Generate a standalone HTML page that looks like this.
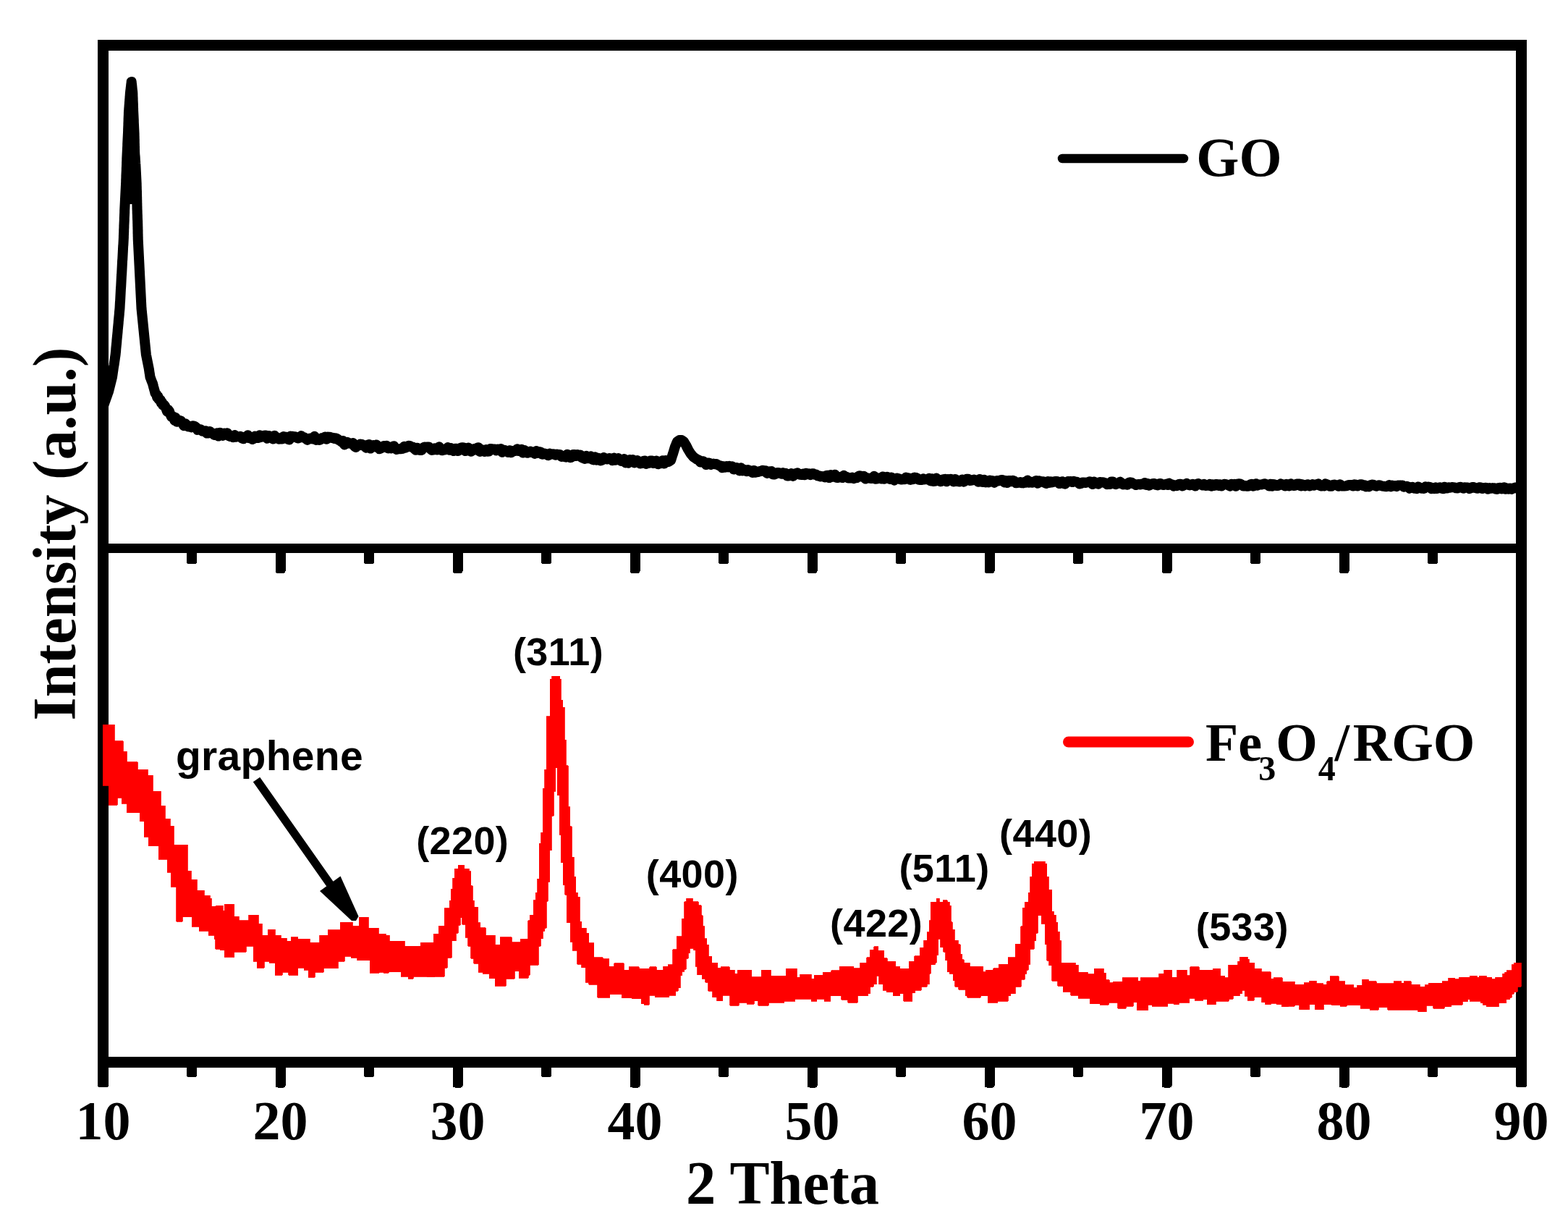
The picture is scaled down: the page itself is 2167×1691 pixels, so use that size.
<!DOCTYPE html><html><head><meta charset="utf-8"><title>XRD patterns of GO and Fe3O4/RGO</title>
<style>html,body{margin:0;padding:0;background:#fff}svg{display:block}</style></head><body>
<svg width="2167" height="1691" viewBox="0 0 2167 1691">
<rect width="2167" height="1691" fill="#fff"/>
<g fill="#000" shape-rendering="crispEdges">
<rect x="135" y="55" width="1975" height="15"/>
<rect x="135" y="1460" width="1975" height="15"/>
<rect x="135" y="55" width="15" height="1447" rx="3"/>
<rect x="2095" y="55" width="15" height="1447" rx="3"/>
<rect x="135" y="751" width="1975" height="13"/>
<rect x="380.5" y="1467" width="14" height="35.5" rx="3"/>
<rect x="380.5" y="757" width="14" height="35" rx="3"/>
<rect x="625.5" y="1467" width="14" height="35.5" rx="3"/>
<rect x="625.5" y="757" width="14" height="35" rx="3"/>
<rect x="870.5" y="1467" width="14" height="35.5" rx="3"/>
<rect x="870.5" y="757" width="14" height="35" rx="3"/>
<rect x="1115.5" y="1467" width="14" height="35.5" rx="3"/>
<rect x="1115.5" y="757" width="14" height="35" rx="3"/>
<rect x="1360.5" y="1467" width="14" height="35.5" rx="3"/>
<rect x="1360.5" y="757" width="14" height="35" rx="3"/>
<rect x="1605.5" y="1467" width="14" height="35.5" rx="3"/>
<rect x="1605.5" y="757" width="14" height="35" rx="3"/>
<rect x="1850.5" y="1467" width="14" height="35.5" rx="3"/>
<rect x="1850.5" y="757" width="14" height="35" rx="3"/>
<rect x="258.0" y="1467" width="14" height="21" rx="3"/>
<rect x="258.0" y="757" width="14" height="22" rx="3"/>
<rect x="503.0" y="1467" width="14" height="21" rx="3"/>
<rect x="503.0" y="757" width="14" height="22" rx="3"/>
<rect x="748.0" y="1467" width="14" height="21" rx="3"/>
<rect x="748.0" y="757" width="14" height="22" rx="3"/>
<rect x="993.0" y="1467" width="14" height="21" rx="3"/>
<rect x="993.0" y="757" width="14" height="22" rx="3"/>
<rect x="1238.0" y="1467" width="14" height="21" rx="3"/>
<rect x="1238.0" y="757" width="14" height="22" rx="3"/>
<rect x="1483.0" y="1467" width="14" height="21" rx="3"/>
<rect x="1483.0" y="757" width="14" height="22" rx="3"/>
<rect x="1728.0" y="1467" width="14" height="21" rx="3"/>
<rect x="1728.0" y="757" width="14" height="22" rx="3"/>
<rect x="1973.0" y="1467" width="14" height="21" rx="3"/>
<rect x="1973.0" y="757" width="14" height="22" rx="3"/>
</g>
<path d="M142.5 562.0 L143.2 560.1 L143.9 558.2 L144.5 556.3 L145.2 554.4 L145.9 552.5 L146.6 550.5 L147.3 548.6 L148.0 546.7 L148.6 544.8 L149.3 542.9 L150.0 541.0 L150.5 539.0 L151.0 537.0 L151.5 535.0 L152.0 533.0 L152.5 531.0 L153.0 529.0 L153.5 527.0 L154.0 525.0 L154.5 523.0 L155.0 521.0 L155.3 518.9 L155.6 516.9 L155.9 514.8 L156.2 512.7 L156.5 510.7 L156.8 508.6 L157.1 506.5 L157.5 504.5 L157.8 502.4 L158.1 500.3 L158.4 498.3 L158.7 496.2 L159.0 494.1 L159.3 492.1 L159.6 490.0 L159.8 488.0 L160.0 486.0 L160.2 484.0 L160.3 482.0 L160.5 480.0 L160.7 478.0 L160.9 476.0 L161.1 474.0 L161.3 472.0 L161.4 470.0 L161.6 468.0 L161.8 466.0 L162.0 464.0 L162.2 462.0 L162.4 460.0 L162.6 458.0 L162.7 456.0 L162.9 454.0 L163.1 452.0 L163.3 450.0 L163.5 448.0 L163.7 446.0 L163.8 444.0 L164.0 442.0 L164.2 440.0 L164.4 438.0 L164.6 436.0 L164.8 434.0 L164.9 432.0 L165.1 430.0 L165.3 428.0 L165.5 426.0 L165.6 424.0 L165.7 422.0 L165.8 420.0 L165.9 418.0 L166.1 416.0 L166.2 414.0 L166.3 412.0 L166.4 410.0 L166.5 408.0 L166.6 406.0 L166.7 404.0 L166.8 402.0 L166.9 400.0 L167.0 398.0 L167.2 396.0 L167.3 394.0 L167.4 392.0 L167.5 390.0 L167.6 388.0 L167.7 386.0 L167.8 384.0 L167.9 382.0 L168.0 380.0 L168.2 378.0 L168.3 376.0 L168.4 374.0 L168.5 372.0 L168.6 370.0 L168.7 368.0 L168.8 366.0 L168.9 364.0 L169.0 362.0 L169.1 360.0 L169.3 358.0 L169.4 356.0 L169.5 354.0 L169.6 352.0 L169.7 350.0 L169.8 348.0 L169.9 346.0 L170.0 344.0 L170.1 342.0 L170.2 340.0 L170.4 338.0 L170.5 336.0 L170.6 334.0 L170.7 332.0 L170.8 330.0 L170.9 328.0 L170.9 326.0 L171.0 324.0 L171.1 322.0 L171.2 320.0 L171.2 318.0 L171.3 316.0 L171.4 314.0 L171.4 312.0 L171.5 310.0 L171.6 307.9 L171.7 305.8 L171.8 303.8 L171.8 301.7 L171.9 299.6 L172.0 297.5 L172.1 295.4 L172.2 293.3 L172.2 291.2 L172.3 289.2 L172.4 287.1 L172.5 285.0 L172.6 283.0 L172.7 281.0 L172.8 279.0 L172.9 277.0 L173.0 275.0 L173.1 273.0 L173.2 271.0 L173.3 269.0 L173.4 267.0 L173.5 265.0 L173.6 263.0 L173.7 261.0 L173.8 259.0 L173.9 257.0 L174.0 255.0 L174.1 253.0 L174.2 251.0 L174.2 249.0 L174.3 247.0 L174.4 245.0 L174.4 243.0 L174.5 241.0 L174.6 239.0 L174.7 237.0 L174.8 235.0 L174.8 233.0 L174.9 231.0 L175.0 229.0 L175.1 227.0 L175.1 225.0 L175.2 223.0 L175.3 221.0 L175.3 219.0 L175.4 217.0 L175.5 215.0 L175.6 213.0 L175.7 211.0 L175.8 209.0 L175.9 207.0 L176.0 205.0 L176.1 203.0 L176.2 201.0 L176.2 199.0 L176.3 197.0 L176.4 195.0 L176.5 193.0 L176.6 191.0 L176.7 189.0 L176.8 187.0 L176.9 185.0 L177.0 183.0 L177.1 180.9 L177.1 178.9 L177.2 176.8 L177.3 174.7 L177.4 172.6 L177.4 170.6 L177.5 168.5 L177.6 166.4 L177.6 164.4 L177.7 162.3 L177.8 160.2 L177.9 158.1 L177.9 156.1 L178.0 154.0 L178.2 152.0 L178.3 150.0 L178.5 148.0 L178.6 146.0 L178.8 144.0 L178.9 142.0 L179.1 140.0 L179.2 138.0 L179.4 136.0 L179.5 134.0 L179.7 132.0 L179.8 130.0 L180.0 128.0 L180.2 125.9 L180.5 123.7 L180.7 121.6 L181.0 119.4 L181.2 117.3 L181.5 115.1 L181.7 113.0 L181.9 115.1 L182.2 117.3 L182.4 119.4 L182.6 121.6 L182.8 123.7 L183.1 125.9 L183.3 128.0 L183.4 130.0 L183.4 132.0 L183.5 134.0 L183.6 136.0 L183.6 138.0 L183.7 140.0 L183.8 142.0 L183.9 144.0 L183.9 146.0 L184.0 148.0 L184.1 150.0 L184.1 152.0 L184.2 154.0 L184.3 156.1 L184.4 158.1 L184.5 160.2 L184.6 162.3 L184.7 164.4 L184.8 166.4 L184.8 168.5 L184.9 170.6 L185.0 172.6 L185.1 174.7 L185.2 176.8 L185.3 178.9 L185.4 180.9 L185.5 183.0 L185.6 185.0 L185.6 187.0 L185.7 189.0 L185.7 191.0 L185.8 193.0 L185.8 195.0 L185.8 197.0 L185.9 199.0 L185.9 201.0 L186.0 203.0 L186.0 205.0 L186.1 207.0 L186.1 209.0 L186.2 211.0 L186.3 213.1 L186.5 215.2 L186.7 217.4 L186.8 219.5 L186.9 221.6 L187.1 223.8 L187.2 225.9 L187.4 228.0 L187.5 230.0 L187.6 232.0 L187.7 234.0 L187.8 236.0 L187.9 238.0 L188.0 240.0 L188.1 242.0 L188.2 244.0 L188.3 246.0 L188.4 248.0 L188.5 250.0 L188.6 252.0 L188.7 254.1 L188.7 256.2 L188.8 258.3 L188.8 260.4 L188.9 262.5 L189.0 264.6 L189.0 266.7 L189.1 268.8 L189.1 270.9 L189.2 273.0 L189.2 275.1 L189.3 277.2 L189.3 279.4 L189.4 281.5 L189.4 283.6 L189.5 285.8 L189.5 287.9 L189.6 290.0 L189.7 292.0 L189.7 294.0 L189.8 296.0 L189.9 298.0 L189.9 300.0 L190.0 302.0 L190.1 304.0 L190.2 306.0 L190.2 308.0 L190.3 310.0 L190.3 312.0 L190.4 314.0 L190.4 316.0 L190.5 318.0 L190.5 320.0 L190.5 322.0 L190.6 324.0 L190.6 326.0 L190.7 328.0 L190.7 330.0 L190.8 332.0 L190.9 334.0 L191.0 336.0 L191.1 338.0 L191.2 340.0 L191.3 342.0 L191.4 344.0 L191.5 346.0 L191.6 348.0 L191.7 350.0 L191.8 352.0 L191.9 354.0 L192.0 356.0 L192.1 358.0 L192.2 360.0 L192.3 362.0 L192.4 364.0 L192.5 366.0 L192.6 368.0 L192.7 370.0 L192.8 372.0 L192.9 374.0 L193.0 376.0 L193.1 378.0 L193.2 380.0 L193.3 382.0 L193.4 384.0 L193.5 386.0 L193.6 388.0 L193.7 390.0 L193.8 392.0 L193.9 394.0 L194.0 396.0 L194.1 398.0 L194.2 400.0 L194.3 402.0 L194.4 404.0 L194.5 406.0 L194.6 408.0 L194.7 410.0 L194.8 412.0 L194.9 414.0 L195.0 416.0 L195.1 418.0 L195.2 420.0 L195.3 422.0 L195.4 424.0 L195.5 426.0 L195.7 428.0 L195.9 430.0 L196.1 432.0 L196.3 434.0 L196.5 436.0 L196.7 438.0 L196.9 440.0 L197.1 442.0 L197.3 444.0 L197.5 446.0 L197.7 448.0 L197.9 450.0 L198.1 452.0 L198.3 454.0 L198.5 456.0 L198.7 458.0 L198.9 460.0 L199.1 462.0 L199.3 464.0 L199.5 466.0 L199.7 468.0 L199.9 470.0 L200.1 472.0 L200.3 474.0 L200.5 476.0 L200.7 478.0 L200.9 480.0 L201.1 482.0 L201.3 484.0 L201.5 486.0 L201.7 488.0 L201.9 490.0 L202.3 492.0 L202.7 494.0 L203.1 496.0 L203.5 498.0 L203.9 500.0 L204.3 502.0 L204.7 504.0 L205.1 506.0 L205.5 508.0 L205.9 510.0 L206.2 512.2 L206.5 514.4 L206.9 516.6 L207.2 518.8 L207.5 521.0 L208.4 523.2 L209.2 525.5 L210.1 527.8 L211.0 530.0 L211.6 532.1 L212.1 534.3 L212.7 536.4 L213.3 538.6 L213.9 540.7 L214.4 542.9 L215.0 543.9 L216.1 544.6 L217.2 549.2 L218.3 547.4 L219.4 551.9 L220.6 552.5 L221.7 552.3 L222.8 556.7 L223.9 555.6 L225.0 559.6 L226.5 559.1 L228.0 560.9 L229.5 564.5 L231.0 568.6 L232.5 566.1 L234.0 568.3 L235.4 572.3 L236.9 575.9 L238.3 575.2 L239.7 575.7 L241.2 580.8 L242.6 576.8 L244.5 582.8 L246.4 580.5 L248.3 580.8 L250.2 581.7 L252.1 584.0 L254.0 588.2 L256.1 585.2 L258.2 588.4 L260.3 589.5 L262.4 588.7 L264.5 590.4 L266.6 588.2 L268.8 588.8 L270.9 590.3 L273.0 593.8 L275.2 593.1 L277.5 593.2 L279.8 595.7 L282.0 595.7 L284.0 595.2 L286.0 598.5 L288.0 598.4 L290.0 596.0 L292.0 598.4 L294.0 598.5 L296.0 601.0 L298.0 600.5 L300.0 598.2 L302.0 602.6 L304.0 597.7 L306.1 599.7 L308.1 601.9 L310.1 598.5 L312.1 600.8 L314.1 598.3 L316.2 602.3 L318.2 603.1 L320.2 602.2 L322.2 604.2 L324.3 601.1 L326.3 603.6 L328.3 603.2 L330.3 603.4 L332.3 602.9 L334.4 605.4 L336.4 606.2 L338.4 603.6 L340.5 604.8 L342.5 601.2 L344.6 605.1 L346.6 604.8 L348.7 606.9 L350.7 605.9 L352.8 602.7 L354.8 603.3 L356.9 605.0 L358.9 601.2 L361.0 603.9 L363.0 602.1 L365.1 601.8 L367.1 601.5 L369.2 605.8 L371.2 602.0 L373.3 602.7 L375.3 603.6 L377.4 606.5 L379.4 601.8 L381.5 604.0 L383.5 604.7 L385.6 606.7 L387.6 606.3 L389.7 606.6 L391.7 603.1 L393.8 604.0 L395.9 603.7 L397.9 606.9 L400.0 607.4 L402.0 602.6 L404.1 602.8 L406.1 603.2 L408.2 603.2 L410.2 604.8 L412.3 605.5 L414.3 603.6 L416.4 602.1 L418.4 604.6 L420.5 604.3 L422.5 605.6 L424.6 607.9 L426.6 606.4 L428.7 605.4 L430.7 606.1 L432.8 606.5 L434.8 602.8 L436.9 607.9 L438.9 607.2 L441.0 607.9 L443.0 607.4 L445.1 605.1 L447.1 605.1 L449.2 603.4 L451.3 606.8 L453.5 603.6 L455.6 603.8 L457.7 604.9 L459.9 604.8 L462.0 606.0 L464.0 605.3 L466.0 606.0 L468.0 607.9 L470.0 608.6 L472.0 610.6 L474.0 609.0 L476.0 614.4 L478.0 613.3 L480.0 610.9 L482.0 611.8 L484.0 612.7 L486.0 613.2 L488.0 612.0 L490.0 616.7 L492.0 617.9 L494.0 615.1 L496.0 615.5 L498.0 613.5 L500.0 613.9 L502.0 615.7 L504.0 615.3 L506.0 618.7 L508.1 614.8 L510.1 614.0 L512.1 619.6 L514.1 617.2 L516.1 614.9 L518.1 617.4 L520.2 614.4 L522.2 617.4 L524.2 620.2 L526.2 619.6 L528.2 618.6 L530.3 616.1 L532.3 616.8 L534.3 615.7 L536.3 619.4 L538.3 618.0 L540.3 619.5 L542.4 616.9 L544.4 616.3 L546.4 619.9 L548.4 621.0 L550.4 620.3 L552.5 620.1 L554.5 620.2 L556.5 619.8 L558.5 616.8 L560.5 618.6 L562.5 617.7 L564.6 615.8 L566.6 615.9 L568.6 617.5 L570.6 617.4 L572.6 620.1 L574.6 621.7 L576.7 618.7 L578.7 621.7 L580.7 622.0 L582.7 621.9 L584.7 618.4 L586.7 617.6 L588.7 617.7 L590.8 617.5 L592.8 617.6 L594.8 620.2 L596.8 621.9 L598.8 621.6 L600.8 619.5 L602.8 620.6 L604.8 621.5 L606.9 617.3 L608.9 620.8 L610.9 622.3 L612.9 621.6 L614.9 621.5 L616.9 619.9 L618.9 618.1 L621.0 621.8 L623.0 619.1 L625.0 622.0 L627.0 623.1 L629.0 619.7 L631.0 619.8 L633.0 623.1 L635.1 621.8 L637.1 618.5 L639.1 618.3 L641.1 618.5 L643.1 623.1 L645.1 622.5 L647.1 618.6 L649.1 622.8 L651.2 623.7 L653.2 621.8 L655.2 620.1 L657.2 621.3 L659.3 618.9 L661.3 618.2 L663.4 624.0 L665.4 622.2 L667.5 621.5 L669.5 624.0 L671.6 621.1 L673.6 623.8 L675.7 623.6 L677.7 620.0 L679.8 620.3 L681.8 620.6 L683.9 620.4 L685.9 622.6 L688.0 620.7 L690.0 621.7 L692.1 620.0 L694.1 624.8 L696.2 621.5 L698.2 622.2 L700.3 623.1 L702.3 625.1 L704.4 622.2 L706.4 625.3 L708.5 622.9 L710.5 623.1 L712.6 623.1 L714.6 620.3 L716.7 623.0 L718.7 621.6 L720.8 620.7 L722.8 625.6 L724.9 622.1 L726.9 624.0 L729.0 625.7 L731.0 624.9 L733.1 623.7 L735.1 625.0 L737.2 625.4 L739.2 626.9 L741.3 623.1 L743.3 625.9 L745.4 624.2 L747.4 624.6 L749.5 627.7 L751.5 626.3 L753.6 626.8 L755.6 628.1 L757.7 629.2 L759.7 626.6 L761.8 627.7 L763.8 627.3 L765.9 627.5 L767.9 628.7 L769.9 627.5 L771.9 628.2 L773.9 628.1 L776.0 631.0 L778.0 629.8 L780.0 631.0 L782.0 631.6 L784.0 627.8 L786.0 629.7 L788.0 632.2 L790.0 631.8 L792.1 627.9 L794.1 628.0 L796.1 630.1 L798.1 628.1 L800.1 629.3 L802.1 628.5 L804.1 632.2 L806.2 633.0 L808.2 633.9 L810.2 629.8 L812.2 633.2 L814.2 633.1 L816.2 630.3 L818.2 634.7 L820.3 635.4 L822.3 631.3 L824.3 635.7 L826.3 632.7 L828.3 633.4 L830.3 636.4 L832.4 635.7 L834.4 632.1 L836.4 633.8 L838.4 634.5 L840.4 633.6 L842.4 633.0 L844.4 633.9 L846.5 636.3 L848.5 632.6 L850.5 635.8 L852.5 635.3 L854.5 633.1 L856.5 635.0 L858.5 636.9 L860.6 636.4 L862.6 634.1 L864.6 639.5 L866.6 638.5 L868.6 639.7 L870.6 635.1 L872.7 636.1 L874.7 635.1 L876.7 639.4 L878.7 636.7 L880.7 636.0 L882.7 637.7 L884.8 640.5 L886.8 640.1 L888.8 637.0 L890.8 636.5 L892.9 640.9 L894.9 639.0 L896.9 639.8 L898.9 636.5 L901.0 636.4 L903.0 640.0 L905.0 638.6 L907.2 636.6 L909.3 641.3 L911.5 639.5 L913.7 640.3 L915.8 636.3 L918.0 640.5 L920.0 636.0 L922.0 638.2 L924.0 638.0 L927.0 636.0 L927.8 633.8 L928.5 631.5 L929.2 629.2 L930.0 627.0 L930.6 625.0 L931.2 623.0 L931.8 621.0 L932.4 619.0 L933.0 617.0 L934.0 614.7 L935.0 612.3 L936.0 610.0 L939.0 608.0 L942.0 608.0 L945.0 610.0 L946.5 612.5 L948.0 615.0 L949.0 617.0 L950.0 619.0 L951.0 621.0 L952.5 623.5 L954.0 626.0 L955.3 627.7 L956.7 629.3 L958.0 631.0 L959.7 632.2 L961.3 633.3 L963.0 634.5 L965.5 635.5 L968.0 638.5 L970.0 637.1 L972.0 637.3 L974.0 639.3 L976.0 642.1 L978.0 639.4 L980.0 639.5 L982.0 642.0 L984.0 640.9 L986.0 640.6 L988.0 641.2 L990.0 641.0 L992.0 642.2 L994.0 643.2 L996.0 643.5 L998.0 646.3 L1000.0 644.2 L1002.0 645.6 L1004.0 644.1 L1006.0 645.3 L1008.0 643.8 L1010.0 645.3 L1012.0 644.3 L1014.0 648.4 L1016.0 647.6 L1018.0 646.0 L1020.0 647.8 L1022.0 650.4 L1024.0 646.3 L1026.0 650.4 L1028.0 648.6 L1030.0 649.2 L1032.0 651.2 L1034.0 649.2 L1036.0 650.0 L1038.0 651.2 L1040.0 653.0 L1042.0 649.9 L1044.0 652.7 L1046.0 652.2 L1048.0 652.1 L1050.0 651.1 L1052.0 651.0 L1054.0 649.7 L1056.0 650.3 L1058.0 650.2 L1060.0 653.9 L1062.0 651.6 L1064.0 651.3 L1066.0 651.1 L1068.0 655.3 L1070.0 655.6 L1072.0 654.8 L1074.0 653.0 L1076.0 653.0 L1078.0 653.5 L1080.0 654.6 L1082.0 653.1 L1084.0 654.7 L1086.0 653.8 L1088.0 657.5 L1090.0 657.6 L1092.0 655.6 L1094.0 654.1 L1096.0 657.9 L1098.0 654.6 L1100.0 654.9 L1102.0 653.2 L1104.0 655.2 L1106.0 655.8 L1108.0 656.0 L1110.0 654.6 L1112.0 656.2 L1114.0 653.8 L1116.0 655.2 L1118.0 654.4 L1120.0 656.0 L1122.0 654.3 L1124.0 654.3 L1126.0 655.8 L1128.0 655.5 L1130.0 657.4 L1132.0 657.2 L1134.0 658.4 L1136.0 658.0 L1138.0 658.4 L1140.0 659.3 L1142.0 656.9 L1144.0 656.7 L1146.0 660.1 L1148.0 656.0 L1150.0 658.9 L1152.0 658.6 L1154.0 655.7 L1156.0 659.8 L1158.0 660.1 L1160.0 658.9 L1162.0 659.5 L1164.0 660.0 L1166.0 656.7 L1168.0 658.7 L1170.0 658.7 L1172.0 660.4 L1174.0 660.4 L1176.0 660.6 L1178.0 659.5 L1180.0 661.1 L1182.0 660.1 L1184.0 660.3 L1186.0 658.1 L1188.0 657.2 L1190.0 657.8 L1192.0 659.0 L1194.0 657.8 L1196.0 661.5 L1198.0 660.2 L1200.0 660.6 L1202.0 660.7 L1204.0 661.0 L1206.0 660.1 L1208.0 657.8 L1210.0 661.7 L1212.0 661.6 L1214.0 660.4 L1216.0 660.6 L1218.0 661.3 L1220.0 658.5 L1222.0 661.8 L1224.0 659.5 L1226.0 658.7 L1228.0 659.7 L1230.0 662.0 L1232.0 659.5 L1234.0 662.2 L1236.0 663.4 L1238.0 661.1 L1240.0 660.6 L1242.0 661.2 L1244.0 662.2 L1246.0 662.6 L1248.0 662.0 L1250.0 662.2 L1252.0 659.6 L1254.0 660.0 L1256.0 660.5 L1258.0 662.9 L1260.0 660.9 L1262.0 662.2 L1264.0 659.6 L1266.0 659.9 L1268.0 661.0 L1270.0 662.9 L1272.0 663.1 L1274.0 663.0 L1276.0 661.3 L1278.0 662.4 L1280.0 662.2 L1282.0 662.3 L1284.0 660.7 L1286.0 664.4 L1288.0 661.2 L1290.0 664.9 L1292.0 664.8 L1294.0 660.6 L1296.0 662.7 L1298.0 664.4 L1300.0 665.2 L1302.0 662.8 L1304.0 662.1 L1306.0 661.8 L1308.0 665.3 L1310.0 662.0 L1312.0 663.7 L1314.0 661.8 L1316.0 663.6 L1318.0 665.6 L1320.0 661.9 L1322.0 665.1 L1324.0 663.7 L1326.0 665.5 L1328.0 664.7 L1330.0 662.6 L1332.0 665.7 L1334.0 663.8 L1336.0 661.8 L1338.0 661.7 L1340.0 664.0 L1342.0 663.8 L1344.0 663.2 L1346.0 662.5 L1348.0 663.5 L1350.0 663.4 L1352.0 665.8 L1354.0 662.0 L1356.0 665.4 L1358.0 665.9 L1360.0 662.7 L1362.0 666.4 L1364.0 665.4 L1366.0 666.3 L1368.0 663.6 L1370.0 664.0 L1372.0 664.2 L1374.0 666.9 L1376.0 665.1 L1378.0 664.1 L1380.0 664.5 L1382.0 663.8 L1384.0 662.9 L1386.0 663.2 L1388.0 666.4 L1390.0 664.1 L1392.0 667.0 L1394.0 664.0 L1396.0 664.1 L1398.0 665.2 L1400.0 663.8 L1402.0 664.7 L1404.0 667.3 L1406.0 667.0 L1408.0 666.7 L1410.0 666.0 L1412.0 667.2 L1414.0 667.4 L1416.0 665.7 L1418.0 666.5 L1420.0 663.6 L1422.0 666.7 L1424.0 665.5 L1426.0 666.8 L1428.0 666.4 L1430.0 664.9 L1432.0 663.9 L1434.0 667.7 L1436.0 664.3 L1438.0 665.8 L1440.0 665.3 L1442.0 665.2 L1444.0 667.1 L1446.0 668.1 L1448.0 665.1 L1450.0 666.8 L1452.0 665.3 L1454.0 666.5 L1456.0 665.8 L1458.0 664.9 L1460.0 664.9 L1462.0 665.1 L1464.0 668.1 L1466.0 666.4 L1468.0 665.2 L1470.0 668.2 L1472.0 668.6 L1474.0 666.3 L1476.0 665.0 L1478.0 665.3 L1480.0 664.9 L1482.0 666.0 L1484.0 664.9 L1486.0 665.6 L1488.0 665.7 L1490.0 667.0 L1492.0 668.4 L1494.0 667.9 L1496.0 666.5 L1498.0 666.5 L1500.0 667.0 L1502.0 666.4 L1504.0 666.3 L1506.0 665.2 L1508.0 666.1 L1510.0 669.0 L1512.0 665.5 L1514.0 667.1 L1516.0 667.7 L1518.0 668.7 L1520.0 666.0 L1522.0 666.3 L1524.0 666.2 L1526.0 666.9 L1528.0 667.1 L1530.0 669.2 L1532.0 668.8 L1534.0 668.9 L1536.0 665.5 L1538.0 665.6 L1540.0 668.4 L1542.0 669.1 L1544.0 667.5 L1546.0 667.9 L1548.0 665.6 L1550.0 667.2 L1552.0 669.4 L1554.0 669.0 L1556.0 669.2 L1558.0 669.7 L1560.0 666.8 L1562.0 666.3 L1564.0 666.6 L1566.0 668.2 L1568.0 668.9 L1570.0 670.0 L1572.0 669.2 L1574.0 669.0 L1576.0 669.6 L1578.0 668.4 L1580.0 668.9 L1582.0 667.0 L1584.0 670.0 L1586.0 667.9 L1588.0 670.7 L1590.0 669.7 L1592.0 668.5 L1594.0 667.9 L1596.0 668.4 L1598.0 670.0 L1600.0 670.4 L1602.0 668.1 L1604.0 667.9 L1606.0 669.7 L1608.0 670.0 L1610.0 669.2 L1612.0 668.6 L1614.0 670.1 L1616.0 667.8 L1618.0 668.9 L1620.0 669.5 L1622.0 671.5 L1624.0 670.3 L1626.0 671.2 L1628.0 669.6 L1630.0 668.7 L1632.0 668.7 L1634.0 671.5 L1636.0 670.5 L1638.0 669.0 L1640.0 667.9 L1642.0 669.8 L1644.0 670.4 L1646.0 669.5 L1648.0 668.9 L1650.0 670.4 L1652.0 671.4 L1654.0 668.8 L1656.0 668.0 L1658.0 669.2 L1660.0 669.5 L1662.0 670.5 L1664.0 668.7 L1666.0 671.0 L1668.0 670.8 L1670.0 669.9 L1672.0 668.8 L1674.0 671.7 L1676.0 669.2 L1678.0 671.1 L1680.0 668.9 L1682.0 668.9 L1684.0 670.9 L1686.0 669.2 L1688.0 671.6 L1690.0 669.9 L1692.0 668.8 L1694.0 668.9 L1696.0 669.7 L1698.0 670.6 L1700.0 671.7 L1702.0 668.7 L1704.0 669.6 L1706.0 668.9 L1708.0 671.8 L1710.0 668.7 L1712.0 668.3 L1714.0 668.4 L1716.0 669.6 L1718.0 671.5 L1720.0 671.4 L1722.0 670.9 L1724.0 671.8 L1726.0 671.6 L1728.0 669.4 L1730.0 668.9 L1732.0 671.6 L1734.0 670.9 L1736.0 668.3 L1738.0 670.6 L1740.0 669.6 L1742.0 669.5 L1744.0 669.4 L1746.0 668.8 L1748.0 668.2 L1750.0 669.2 L1752.0 669.5 L1754.0 671.6 L1756.0 668.7 L1758.0 671.7 L1760.0 669.0 L1762.0 669.5 L1764.0 671.1 L1766.0 671.1 L1768.0 669.8 L1770.0 668.4 L1772.0 669.9 L1774.0 669.5 L1776.0 671.5 L1778.0 668.9 L1780.0 669.5 L1782.0 671.4 L1784.0 668.3 L1786.0 669.7 L1788.0 671.1 L1790.0 670.9 L1792.0 668.4 L1794.0 668.4 L1796.0 668.5 L1798.0 671.5 L1800.0 669.2 L1802.0 670.9 L1804.0 671.4 L1806.0 669.4 L1808.0 669.2 L1810.0 671.6 L1812.0 670.4 L1814.0 669.2 L1816.0 670.7 L1818.0 669.4 L1820.0 669.2 L1822.0 668.3 L1824.0 670.9 L1826.0 671.5 L1828.0 670.6 L1830.0 671.6 L1832.0 668.5 L1834.0 669.3 L1836.0 670.1 L1838.0 671.8 L1840.0 671.8 L1842.0 669.9 L1844.0 669.5 L1846.0 670.1 L1848.0 670.3 L1850.0 671.8 L1852.0 669.3 L1854.0 671.4 L1856.0 671.3 L1858.0 671.6 L1860.0 671.4 L1862.0 670.9 L1864.0 670.0 L1866.0 670.0 L1868.0 670.1 L1870.0 671.6 L1872.0 669.3 L1874.0 669.7 L1876.0 671.5 L1878.0 669.9 L1880.0 669.3 L1882.0 669.2 L1884.0 671.0 L1886.0 670.3 L1888.0 672.4 L1890.0 672.1 L1892.0 672.5 L1894.0 670.2 L1896.0 669.6 L1898.0 669.7 L1900.0 671.0 L1902.0 671.7 L1904.0 670.9 L1906.0 670.2 L1908.0 670.8 L1910.0 671.5 L1912.0 671.7 L1914.0 672.0 L1916.0 672.3 L1918.0 671.8 L1920.0 670.0 L1922.0 672.4 L1924.0 670.6 L1926.0 671.5 L1928.0 670.9 L1930.0 672.1 L1932.0 670.4 L1934.0 670.6 L1936.0 670.6 L1938.0 670.4 L1940.0 672.7 L1942.0 672.2 L1944.0 671.8 L1946.0 672.4 L1948.0 674.7 L1950.0 673.6 L1952.0 672.8 L1954.0 674.6 L1956.0 674.1 L1958.1 675.2 L1960.1 672.4 L1962.1 673.6 L1964.1 674.7 L1966.1 674.8 L1968.1 675.0 L1970.1 672.3 L1972.2 673.1 L1974.2 672.6 L1976.2 672.9 L1978.2 675.3 L1980.2 674.1 L1982.2 675.2 L1984.2 673.5 L1986.2 675.0 L1988.3 673.8 L1990.3 673.2 L1992.3 674.8 L1994.3 675.3 L1996.3 672.8 L1998.3 674.3 L2000.3 674.4 L2002.4 673.2 L2004.4 673.7 L2006.4 673.0 L2008.4 673.2 L2010.4 673.4 L2012.4 674.4 L2014.4 674.6 L2016.5 673.3 L2018.5 672.7 L2020.5 673.7 L2022.5 674.7 L2024.5 673.3 L2026.5 673.7 L2028.5 673.4 L2030.6 675.1 L2032.6 674.4 L2034.6 673.0 L2036.6 673.1 L2038.6 674.0 L2040.6 674.5 L2042.6 674.8 L2044.7 673.2 L2046.7 673.4 L2048.7 675.0 L2050.7 674.2 L2052.7 673.8 L2054.7 673.9 L2056.7 675.8 L2058.8 674.0 L2060.8 674.7 L2062.8 674.1 L2064.8 674.3 L2066.8 675.6 L2068.8 676.0 L2070.8 674.2 L2072.8 673.8 L2074.9 675.3 L2076.9 673.8 L2078.9 673.3 L2080.9 675.8 L2082.9 674.5 L2084.9 675.6 L2086.9 674.5 L2089.0 675.8 L2091.0 674.7 L2093.0 673.8 L2095.0 673.4 L2097.5 675.0 L2100.0 675.3 L2102.5 675.0" fill="none" stroke="#000" stroke-width="14" stroke-linejoin="round" stroke-linecap="round"/>
<polygon points="172.3,282 174,255 175.5,215 177,183 178,154 180,128 181.7,113 183.3,128 184.2,154 185.5,183 186.2,211 187.4,228 188.6,252 189.4,282" fill="#000"/>
<path d="M142.0 1001.0 L158.0 1001.0 L158.0 1023.5 L170.0 1023.5 L170.0 1038.0 L175.0 1038.0 L175.0 1052.5 L190.0 1052.5 L190.0 1063.0 L204.0 1063.0 L204.0 1071.0 L211.0 1071.0 L211.0 1093.0 L222.0 1093.0 L222.0 1113.0 L228.0 1113.0 L228.0 1131.0 L235.0 1131.0 L235.0 1141.0 L240.0 1141.0 L240.0 1167.0 L259.0 1167.0 L259.0 1203.0 L264.0 1203.0 L264.0 1215.0 L272.0 1215.0 L272.0 1230.0 L282.0 1230.0 L282.0 1237.0 L290.0 1237.0 L290.0 1241.0 L292.0 1241.0 L292.0 1252.0 L298.0 1252.0 L298.0 1251.0 L308.0 1251.0 L308.0 1258.0 L310.0 1258.0 L310.0 1249.0 L323.5 1249.0 L323.5 1266.0 L330.0 1266.0 L330.0 1271.5 L343.5 1271.5 L343.5 1264.0 L357.0 1264.0 L357.0 1276.0 L362.0 1276.0 L362.0 1292.0 L370.0 1292.0 L370.0 1284.0 L380.0 1284.0 L380.0 1292.0 L388.0 1292.0 L388.0 1296.0 L396.0 1296.0 L396.0 1300.0 L402.0 1300.0 L402.0 1294.6 L411.5 1294.6 L411.5 1297.0 L428.0 1297.0 L428.0 1302.0 L441.5 1302.0 L441.5 1292.3 L453.0 1292.3 L453.0 1284.8 L470.0 1284.8 L470.0 1274.4 L487.0 1274.4 L487.0 1279.0 L496.0 1279.0 L496.0 1267.0 L509.0 1267.0 L509.0 1282.0 L523.0 1282.0 L523.0 1290.0 L533.0 1290.0 L533.0 1292.0 L538.0 1292.0 L538.0 1300.0 L559.0 1300.0 L559.0 1307.0 L581.0 1307.0 L581.0 1302.0 L599.0 1302.0 L599.0 1290.0 L606.0 1290.0 L606.0 1279.3 L614.0 1279.3 L614.0 1254.7 L621.0 1254.7 L621.0 1244.0 L623.4 1244.0 L623.4 1228.0 L625.8 1228.0 L625.8 1213.0 L628.0 1213.0 L628.0 1200.0 L633.0 1200.0 L633.0 1195.4 L641.5 1195.4 L641.5 1200.0 L648.0 1200.0 L648.0 1203.7 L650.6 1203.7 L650.6 1223.8 L653.0 1223.8 L653.0 1244.0 L655.4 1244.0 L655.4 1253.3 L660.5 1253.3 L660.5 1274.6 L663.6 1274.6 L663.6 1281.7 L671.0 1281.7 L671.0 1292.0 L684.0 1292.0 L684.0 1305.4 L691.0 1305.4 L691.0 1294.7 L707.0 1294.7 L707.0 1301.8 L719.0 1301.8 L719.0 1297.0 L729.9 1297.0 L729.9 1271.5 L732.2 1271.5 L732.2 1264.0 L737.3 1264.0 L737.3 1243.5 L740.0 1243.5 L740.0 1233.0 L742.6 1233.0 L742.6 1214.0 L745.1 1214.0 L745.1 1165.0 L747.6 1165.0 L747.6 1150.0 L750.4 1150.0 L750.4 1089.0 L752.5 1089.0 L752.5 1063.0 L755.4 1063.0 L755.4 989.6 L760.3 989.6 L760.3 938.0 L762.5 938.0 L762.5 934.2 L773.8 934.2 L773.8 938.0 L775.2 938.0 L775.2 967.0 L777.8 967.0 L777.8 977.0 L780.2 977.0 L780.2 1022.0 L782.3 1022.0 L782.3 1057.7 L785.2 1057.7 L785.2 1114.5 L787.7 1114.5 L787.7 1141.5 L790.4 1141.5 L790.4 1184.3 L793.1 1184.3 L793.1 1211.0 L795.8 1211.0 L795.8 1233.0 L798.3 1233.0 L798.3 1239.0 L801.0 1239.0 L801.0 1273.0 L803.5 1273.0 L803.5 1282.0 L810.1 1282.0 L810.1 1289.0 L813.5 1289.0 L813.5 1302.6 L820.9 1302.6 L820.9 1322.6 L833.0 1322.6 L833.0 1324.8 L841.5 1324.8 L841.5 1335.0 L848.5 1335.0 L848.5 1330.7 L862.0 1330.7 L862.0 1340.3 L869.0 1340.3 L869.0 1335.9 L883.0 1335.9 L883.0 1338.0 L890.0 1338.0 L890.0 1338.1 L897.5 1338.1 L897.5 1335.5 L907.0 1335.5 L907.0 1340.3 L916.5 1340.3 L916.5 1335.0 L923.0 1335.0 L923.0 1332.8 L929.5 1332.8 L929.5 1311.5 L935.0 1311.5 L935.0 1293.5 L942.0 1293.5 L942.0 1269.0 L945.6 1269.0 L945.6 1245.5 L948.8 1245.5 L948.8 1241.3 L957.0 1241.3 L957.0 1245.5 L965.0 1245.5 L965.0 1250.9 L969.0 1250.9 L969.0 1264.7 L971.2 1264.7 L971.2 1279.6 L973.8 1279.6 L973.8 1296.6 L976.7 1296.6 L976.7 1305.0 L979.2 1305.0 L979.2 1321.0 L983.7 1321.0 L983.7 1330.0 L991.5 1330.0 L991.5 1337.0 L996.4 1337.0 L996.4 1335.5 L1008.0 1335.5 L1008.0 1340.3 L1015.0 1340.3 L1015.0 1345.0 L1019.4 1345.0 L1019.4 1340.3 L1038.5 1340.3 L1038.5 1349.9 L1052.4 1349.9 L1052.4 1340.3 L1065.0 1340.3 L1065.0 1348.3 L1080.0 1348.3 L1080.0 1348.1 L1086.0 1348.1 L1086.0 1338.0 L1101.0 1338.0 L1101.0 1350.3 L1105.8 1350.3 L1105.8 1346.0 L1121.2 1346.0 L1121.2 1352.4 L1125.3 1352.4 L1125.3 1347.0 L1137.0 1347.0 L1137.0 1343.4 L1148.5 1343.4 L1148.5 1340.7 L1160.0 1340.7 L1160.0 1335.4 L1179.5 1335.4 L1179.5 1337.5 L1188.5 1337.5 L1188.5 1330.0 L1197.5 1330.0 L1197.5 1322.6 L1202.4 1322.6 L1202.4 1312.0 L1207.7 1312.0 L1207.7 1307.7 L1213.5 1307.7 L1213.5 1313.0 L1221.5 1313.0 L1221.5 1323.7 L1226.4 1323.7 L1226.4 1328.0 L1237.5 1328.0 L1237.5 1335.4 L1243.5 1335.4 L1243.5 1338.0 L1256.0 1338.0 L1256.0 1328.0 L1263.5 1328.0 L1263.5 1320.5 L1271.0 1320.5 L1271.0 1309.0 L1276.5 1309.0 L1276.5 1299.0 L1281.3 1299.0 L1281.3 1287.5 L1284.0 1287.5 L1284.0 1271.5 L1286.0 1271.5 L1286.0 1246.0 L1294.0 1246.0 L1294.0 1241.2 L1298.3 1241.2 L1298.3 1246.0 L1303.0 1246.0 L1303.0 1243.8 L1309.0 1243.8 L1309.0 1246.0 L1312.2 1246.0 L1312.2 1251.3 L1314.3 1251.3 L1314.3 1273.6 L1316.4 1273.6 L1316.4 1284.3 L1319.0 1284.3 L1319.0 1299.2 L1324.0 1299.2 L1324.0 1304.5 L1327.0 1304.5 L1327.0 1318.4 L1329.6 1318.4 L1329.6 1325.8 L1332.4 1325.8 L1332.4 1330.0 L1340.0 1330.0 L1340.0 1335.4 L1358.5 1335.4 L1358.5 1342.8 L1362.2 1342.8 L1362.2 1340.2 L1372.8 1340.2 L1372.8 1337.5 L1380.3 1337.5 L1380.3 1332.2 L1393.0 1332.2 L1393.0 1322.5 L1403.0 1322.5 L1403.0 1304.3 L1410.8 1304.3 L1410.8 1279.5 L1413.4 1279.5 L1413.4 1254.2 L1416.0 1254.2 L1416.0 1246.4 L1421.2 1246.4 L1421.2 1233.3 L1423.8 1233.3 L1423.8 1211.2 L1426.4 1211.2 L1426.4 1193.0 L1429.0 1193.0 L1429.0 1190.4 L1444.0 1190.4 L1444.0 1193.0 L1446.6 1193.0 L1446.6 1211.2 L1449.2 1211.2 L1449.2 1229.0 L1453.8 1229.0 L1453.8 1259.4 L1456.4 1259.4 L1456.4 1264.0 L1459.0 1264.0 L1459.0 1274.3 L1461.6 1274.3 L1461.6 1287.3 L1464.2 1287.3 L1464.2 1299.7 L1466.8 1299.7 L1466.8 1330.2 L1486.3 1330.2 L1486.3 1333.0 L1490.2 1333.0 L1490.2 1343.3 L1503.2 1343.3 L1503.2 1345.9 L1512.3 1345.9 L1512.3 1338.0 L1520.0 1338.0 L1520.0 1338.0 L1525.4 1338.0 L1525.4 1344.0 L1528.4 1344.0 L1528.4 1353.6 L1533.2 1353.6 L1533.2 1357.8 L1538.0 1357.8 L1538.0 1356.0 L1551.2 1356.0 L1551.2 1350.6 L1572.8 1350.6 L1572.8 1355.4 L1576.4 1355.4 L1576.4 1350.6 L1601.6 1350.6 L1601.6 1345.2 L1608.8 1345.2 L1608.8 1340.4 L1619.6 1340.4 L1619.6 1350.0 L1626.8 1350.0 L1626.8 1340.4 L1640.0 1340.4 L1640.0 1347.6 L1644.8 1347.6 L1644.8 1335.6 L1657.4 1335.6 L1657.4 1340.4 L1676.0 1340.4 L1676.0 1338.0 L1686.8 1338.0 L1686.8 1348.2 L1692.8 1348.2 L1692.8 1350.6 L1697.6 1350.6 L1697.6 1333.2 L1710.8 1333.2 L1710.8 1328.4 L1713.2 1328.4 L1713.2 1322.4 L1724.0 1322.4 L1724.0 1325.4 L1726.4 1325.4 L1726.4 1330.2 L1733.6 1330.2 L1733.6 1338.0 L1743.2 1338.0 L1743.2 1342.8 L1756.4 1342.8 L1756.4 1352.4 L1760.0 1352.4 L1760.0 1350.6 L1772.0 1350.6 L1772.0 1356.4 L1789.2 1356.4 L1789.2 1360.0 L1802.4 1360.0 L1802.4 1357.6 L1809.6 1357.6 L1809.6 1355.2 L1819.2 1355.2 L1819.2 1358.8 L1828.8 1358.8 L1828.8 1360.0 L1833.6 1360.0 L1833.6 1355.8 L1838.4 1355.8 L1838.4 1348.6 L1850.4 1348.6 L1850.4 1355.8 L1858.8 1355.8 L1858.8 1360.6 L1870.8 1360.6 L1870.8 1364.8 L1875.6 1364.8 L1875.6 1361.2 L1882.8 1361.2 L1882.8 1353.4 L1891.2 1353.4 L1891.2 1355.8 L1902.0 1355.8 L1902.0 1358.8 L1926.0 1358.8 L1926.0 1355.8 L1936.8 1355.8 L1936.8 1358.2 L1940.4 1358.2 L1940.4 1355.8 L1950.0 1355.8 L1950.0 1360.0 L1962.0 1360.0 L1962.0 1363.0 L1969.2 1363.0 L1969.2 1360.6 L1974.0 1360.6 L1974.0 1358.2 L1993.2 1358.2 L1993.2 1355.8 L2001.6 1355.8 L2001.6 1351.0 L2010.6 1351.0 L2010.6 1352.9 L2016.3 1352.9 L2016.3 1350.0 L2031.2 1350.0 L2031.2 1348.3 L2041.2 1348.3 L2041.2 1350.4 L2044.0 1350.4 L2044.0 1348.3 L2054.0 1348.3 L2054.0 1350.4 L2061.7 1350.4 L2061.7 1352.9 L2066.7 1352.9 L2066.7 1350.4 L2076.7 1350.4 L2076.7 1345.4 L2079.5 1345.4 L2079.5 1343.0 L2082.3 1343.0 L2082.3 1340.5 L2089.4 1340.5 L2089.4 1332.6 L2092.3 1332.6 L2092.3 1330.2 L2102.2 1330.2 L2102.2 1363.2 L2097.2 1363.2 L2097.2 1370.3 L2092.3 1370.3 L2092.3 1373.1 L2089.4 1373.1 L2089.4 1378.0 L2086.6 1378.0 L2086.6 1380.9 L2081.6 1380.9 L2081.6 1385.9 L2071.0 1385.9 L2071.0 1390.8 L2054.0 1390.8 L2054.0 1388.4 L2049.0 1388.4 L2049.0 1385.9 L2046.1 1385.9 L2046.1 1383.0 L2031.2 1383.0 L2031.2 1380.9 L2028.4 1380.9 L2028.4 1383.7 L2021.3 1383.7 L2021.3 1388.4 L2005.7 1388.4 L2005.7 1390.7 L1996.2 1390.7 L1996.2 1393.0 L1980.6 1393.0 L1980.6 1389.4 L1971.0 1389.4 L1971.0 1397.8 L1959.6 1397.8 L1959.6 1395.4 L1917.6 1395.4 L1917.6 1391.8 L1905.0 1391.8 L1905.0 1395.4 L1893.0 1395.4 L1893.0 1393.0 L1880.4 1393.0 L1880.4 1388.8 L1861.2 1388.8 L1861.2 1390.0 L1852.2 1390.0 L1852.2 1388.8 L1840.2 1388.8 L1840.2 1387.6 L1829.4 1387.6 L1829.4 1394.8 L1817.4 1394.8 L1817.4 1387.6 L1809.6 1387.6 L1809.6 1394.8 L1795.8 1394.8 L1795.8 1388.8 L1789.2 1388.8 L1789.2 1390.0 L1780.0 1390.0 L1780.0 1390.8 L1771.4 1390.8 L1771.4 1387.8 L1764.2 1387.8 L1764.2 1386.0 L1756.4 1386.0 L1756.4 1387.8 L1748.6 1387.8 L1748.6 1384.8 L1743.8 1384.8 L1743.8 1377.6 L1733.0 1377.6 L1733.0 1382.4 L1724.0 1382.4 L1724.0 1376.4 L1720.4 1376.4 L1720.4 1368.0 L1716.8 1368.0 L1716.8 1372.8 L1713.2 1372.8 L1713.2 1375.8 L1704.2 1375.8 L1704.2 1380.0 L1698.2 1380.0 L1698.2 1383.0 L1680.2 1383.0 L1680.2 1387.8 L1668.2 1387.8 L1668.2 1380.6 L1662.8 1380.6 L1662.8 1382.4 L1651.4 1382.4 L1651.4 1379.4 L1643.6 1379.4 L1643.6 1385.4 L1629.2 1385.4 L1629.2 1387.8 L1622.0 1387.8 L1622.0 1386.0 L1613.6 1386.0 L1613.6 1390.2 L1592.0 1390.2 L1592.0 1388.4 L1586.6 1388.4 L1586.6 1395.6 L1571.0 1395.6 L1571.0 1384.8 L1566.2 1384.8 L1566.2 1390.2 L1556.0 1390.2 L1556.0 1393.2 L1544.6 1393.2 L1544.6 1385.4 L1532.0 1385.4 L1532.0 1388.4 L1520.0 1388.4 L1520.0 1386.9 L1506.4 1386.9 L1506.4 1379.0 L1490.2 1379.0 L1490.2 1375.2 L1479.8 1375.2 L1479.8 1370.0 L1469.4 1370.0 L1469.4 1362.2 L1461.6 1362.2 L1461.6 1355.0 L1453.8 1355.0 L1453.8 1333.5 L1449.8 1333.5 L1449.8 1327.0 L1446.6 1327.0 L1446.6 1304.9 L1444.0 1304.9 L1444.0 1276.3 L1439.0 1276.3 L1439.0 1264.6 L1434.2 1264.6 L1434.2 1289.3 L1431.6 1289.3 L1431.6 1299.7 L1429.0 1299.7 L1429.0 1311.0 L1423.8 1311.0 L1423.8 1332.2 L1421.2 1332.2 L1421.2 1340.0 L1418.6 1340.0 L1418.6 1345.2 L1416.0 1345.2 L1416.0 1353.0 L1411.0 1353.0 L1411.0 1363.0 L1403.2 1363.0 L1403.2 1372.6 L1396.8 1372.6 L1396.8 1375.8 L1393.0 1375.8 L1393.0 1383.3 L1378.7 1383.3 L1378.7 1385.4 L1365.4 1385.4 L1365.4 1375.8 L1355.3 1375.8 L1355.3 1378.0 L1336.6 1378.0 L1336.6 1375.8 L1334.0 1375.8 L1334.0 1367.3 L1324.5 1367.3 L1324.5 1363.0 L1319.6 1363.0 L1319.6 1354.5 L1317.0 1354.5 L1317.0 1345.0 L1312.2 1345.0 L1312.2 1342.8 L1309.0 1342.8 L1309.0 1326.9 L1306.8 1326.9 L1306.8 1315.2 L1303.6 1315.2 L1303.6 1308.8 L1299.9 1308.8 L1299.9 1297.0 L1296.7 1297.0 L1296.7 1319.4 L1294.0 1319.4 L1294.0 1330.0 L1292.0 1330.0 L1292.0 1332.7 L1286.0 1332.7 L1286.0 1345.0 L1284.0 1345.0 L1284.0 1359.9 L1281.3 1359.9 L1281.3 1363.0 L1273.3 1363.0 L1273.3 1368.4 L1264.6 1368.4 L1264.6 1371.6 L1260.5 1371.6 L1260.5 1383.3 L1248.7 1383.3 L1248.7 1372.6 L1243.5 1372.6 L1243.5 1375.8 L1234.4 1375.8 L1234.4 1370.5 L1225.3 1370.5 L1225.3 1368.4 L1220.0 1368.4 L1220.0 1359.9 L1214.8 1359.9 L1214.8 1348.1 L1211.0 1348.1 L1211.0 1359.9 L1207.2 1359.9 L1207.2 1363.0 L1202.7 1363.0 L1202.7 1372.6 L1199.7 1372.6 L1199.7 1375.8 L1185.3 1375.8 L1185.3 1385.4 L1171.5 1385.4 L1171.5 1381.1 L1162.5 1381.1 L1162.5 1375.8 L1147.5 1375.8 L1147.5 1383.3 L1139.0 1383.3 L1139.0 1380.0 L1128.5 1380.0 L1128.5 1383.3 L1121.0 1383.3 L1121.0 1380.0 L1098.5 1380.0 L1098.5 1383.3 L1083.7 1383.3 L1083.7 1385.4 L1080.0 1385.4 L1080.0 1385.0 L1062.0 1385.0 L1062.0 1389.2 L1047.5 1389.2 L1047.5 1382.9 L1042.0 1382.9 L1042.0 1387.1 L1032.0 1387.1 L1032.0 1385.0 L1021.0 1385.0 L1021.0 1389.2 L1008.5 1389.2 L1008.5 1375.4 L998.5 1375.4 L998.5 1382.9 L990.5 1382.9 L990.5 1377.5 L984.7 1377.5 L984.7 1369.0 L978.8 1369.0 L978.8 1357.3 L974.5 1357.3 L974.5 1352.0 L970.0 1352.0 L970.0 1346.7 L963.7 1346.7 L963.7 1335.0 L961.0 1335.0 L961.0 1312.6 L958.6 1312.6 L958.6 1310.0 L953.0 1310.0 L953.0 1316.9 L951.0 1316.9 L951.0 1324.3 L948.0 1324.3 L948.0 1339.2 L945.6 1339.2 L945.6 1342.4 L942.9 1342.4 L942.9 1347.7 L940.3 1347.7 L940.3 1364.8 L937.4 1364.8 L937.4 1369.0 L933.5 1369.0 L933.5 1375.4 L924.5 1375.4 L924.5 1377.5 L905.0 1377.5 L905.0 1375.4 L897.0 1375.4 L897.0 1388.2 L890.0 1388.2 L890.0 1386.9 L886.0 1386.9 L886.0 1379.5 L873.0 1379.5 L873.0 1378.7 L859.0 1378.7 L859.0 1373.6 L842.5 1373.6 L842.5 1378.0 L825.6 1378.0 L825.6 1360.3 L813.8 1360.3 L813.8 1357.3 L809.0 1357.3 L809.0 1336.6 L803.5 1336.6 L803.5 1332.0 L797.6 1332.0 L797.6 1313.0 L791.0 1313.0 L791.0 1301.0 L788.2 1301.0 L788.2 1274.5 L783.2 1274.5 L783.2 1236.0 L780.6 1236.0 L780.6 1222.8 L778.3 1222.8 L778.3 1191.7 L775.4 1191.7 L775.4 1153.0 L773.1 1153.0 L773.1 1098.9 L770.3 1098.9 L770.3 1060.5 L767.9 1060.5 L767.9 1093.0 L765.0 1093.0 L765.0 1127.0 L762.4 1127.0 L762.4 1174.7 L759.9 1174.7 L759.9 1218.3 L757.4 1218.3 L757.4 1245.0 L755.0 1245.0 L755.0 1282.0 L752.5 1282.0 L752.5 1286.3 L750.0 1286.3 L750.0 1296.7 L747.3 1296.7 L747.3 1307.0 L744.3 1307.0 L744.3 1333.0 L732.0 1333.0 L732.0 1347.0 L730.0 1347.0 L730.0 1351.4 L717.0 1351.4 L717.0 1341.5 L711.0 1341.5 L711.0 1352.0 L699.0 1352.0 L699.0 1362.1 L684.0 1362.1 L684.0 1351.5 L676.0 1351.5 L676.0 1345.0 L667.0 1345.0 L667.0 1343.2 L661.0 1343.2 L661.0 1331.4 L654.5 1331.4 L654.5 1324.3 L650.6 1324.3 L650.6 1307.0 L646.5 1307.0 L646.5 1295.0 L643.0 1295.0 L643.0 1277.0 L638.8 1277.0 L638.8 1267.5 L636.4 1267.5 L636.4 1278.2 L633.2 1278.2 L633.2 1289.4 L630.0 1289.4 L630.0 1299.5 L624.0 1299.5 L624.0 1323.0 L618.0 1323.0 L618.0 1337.3 L614.0 1337.3 L614.0 1349.0 L600.0 1349.0 L600.0 1349.7 L590.0 1349.7 L590.0 1349.0 L571.4 1349.0 L571.4 1352.1 L564.0 1352.1 L564.0 1349.1 L554.0 1349.1 L554.0 1342.6 L537.0 1342.6 L537.0 1344.4 L530.0 1344.4 L530.0 1343.0 L524.0 1343.0 L524.0 1344.2 L511.0 1344.2 L511.0 1326.9 L493.5 1326.9 L493.5 1323.4 L485.0 1323.4 L485.0 1321.1 L476.0 1321.1 L476.0 1328.0 L467.0 1328.0 L467.0 1337.9 L447.0 1337.9 L447.0 1343.0 L435.0 1343.0 L435.0 1350.0 L426.0 1350.0 L426.0 1340.0 L420.0 1340.0 L420.0 1337.3 L411.5 1337.3 L411.5 1347.1 L398.5 1347.1 L398.5 1343.0 L390.0 1343.0 L390.0 1347.1 L380.0 1347.1 L380.0 1330.4 L372.0 1330.4 L372.0 1328.0 L365.0 1328.0 L365.0 1337.3 L355.0 1337.3 L355.0 1328.0 L350.0 1328.0 L350.0 1307.3 L340.0 1307.3 L340.0 1315.0 L323.5 1315.0 L323.5 1322.3 L310.0 1322.3 L310.0 1312.5 L304.0 1312.5 L304.0 1311.3 L297.5 1311.3 L297.5 1297.0 L296.0 1297.0 L296.0 1292.0 L288.0 1292.0 L288.0 1286.0 L275.0 1286.0 L275.0 1280.4 L265.0 1280.4 L265.0 1266.6 L252.0 1266.6 L252.0 1273.0 L243.5 1273.0 L243.5 1225.0 L236.0 1225.0 L236.0 1205.0 L231.0 1205.0 L231.0 1187.0 L219.0 1187.0 L219.0 1168.7 L205.0 1168.7 L205.0 1156.0 L199.0 1156.0 L199.0 1134.7 L193.0 1134.7 L193.0 1122.5 L175.0 1122.5 L175.0 1110.0 L168.0 1110.0 L168.0 1102.0 L162.0 1102.0 L162.0 1112.0 L150.0 1112.0 L150.0 1085.0 L142.0 1085.0 Z" fill="#f00" stroke="#f00" stroke-width="0.8" stroke-linejoin="miter" shape-rendering="crispEdges"/>
<g style="font-family:'Liberation Serif','Times New Roman',serif;font-weight:bold;font-size:76px" fill="#000" text-anchor="middle">
<text x="142.5" y="1573.5">10</text>
<text x="387.5" y="1573.5">20</text>
<text x="632.5" y="1573.5">30</text>
<text x="877.5" y="1573.5">40</text>
<text x="1122.5" y="1573.5">50</text>
<text x="1367.5" y="1573.5">60</text>
<text x="1612.5" y="1573.5">70</text>
<text x="1857.5" y="1573.5">80</text>
<text x="2102.5" y="1573.5">90</text>
</g>
<text transform="translate(1081.5 1662.7) scale(0.972 1)" text-anchor="middle" style="font-family:'Liberation Serif','Times New Roman',serif;font-weight:bold;font-size:85px" fill="#000">2 Theta</text>
<text transform="translate(104 737.5) rotate(-90) scale(0.971 1)" text-anchor="middle" style="font-family:'Liberation Serif','Times New Roman',serif;font-weight:bold;font-size:85px" fill="#000">Intensity (a.u.)</text>
<line x1="1468" y1="219" x2="1636" y2="219" stroke="#000" stroke-width="12.5" stroke-linecap="round"/>
<text x="1653.3" y="242.7" style="font-family:'Liberation Serif','Times New Roman',serif;font-weight:bold;font-size:76px" fill="#000">GO</text>
<line x1="1476.5" y1="1025" x2="1642.5" y2="1025" stroke="#f00" stroke-width="15" stroke-linecap="round"/>
<text y="1050.6" style="font-family:'Liberation Serif','Times New Roman',serif;font-weight:bold;font-size:74px" fill="#000"><tspan x="1666">Fe</tspan><tspan x="1739.2" y="1077.7" font-size="48">3</tspan><tspan x="1763.2" y="1050.6">O</tspan><tspan x="1821.8" y="1077.7" font-size="48">4</tspan><tspan x="1844.4" y="1050.6">/</tspan><tspan x="1869.8">RGO</tspan></text>
<g style="font-family:'Liberation Sans',Arial,sans-serif;font-weight:bold;font-size:54px;letter-spacing:0.4px" fill="#000" text-anchor="middle">
<text x="771.5" y="918.8">(311)</text>
<text x="639.2" y="1180.2">(220)</text>
<text x="956.8" y="1225.7">(400)</text>
<text x="1211.1" y="1294.3">(422)</text>
<text x="1305.0" y="1217.8">(511)</text>
<text x="1445.1" y="1169.7">(440)</text>
<text x="1716.8" y="1298.5">(533)</text>
</g>
<text x="243" y="1064" style="font-family:'Liberation Sans',Arial,sans-serif;font-weight:bold;font-size:57px;letter-spacing:0.3px" fill="#000">graphene</text>
<line x1="354.5" y1="1077" x2="456.5" y2="1222" stroke="#000" stroke-width="11.5"/>
<polygon points="442,1231 470.5,1210.5 495.5,1266 492,1272 486,1272" fill="#000"/>
</svg></body></html>
